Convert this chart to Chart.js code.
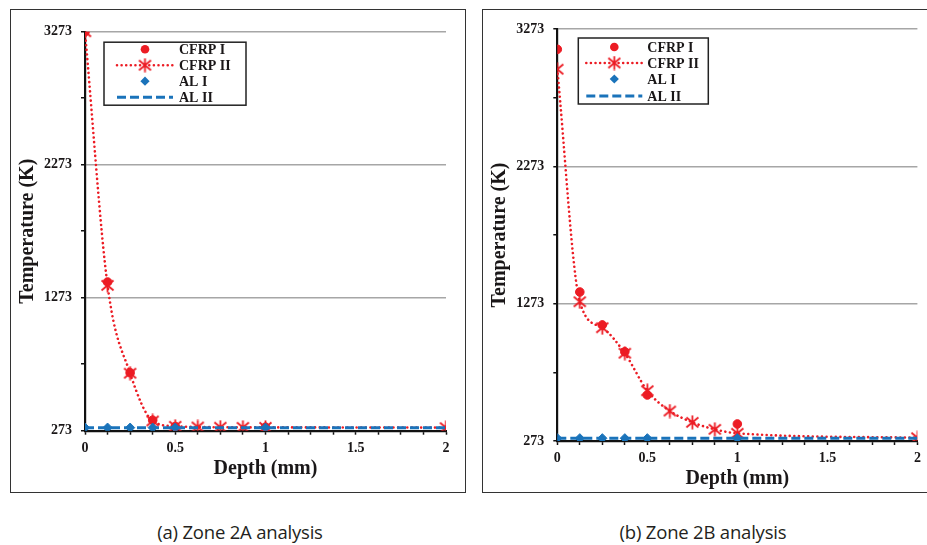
<!DOCTYPE html>
<html>
<head>
<meta charset="utf-8">
<script src="https://cdn.jsdelivr.net/npm/chart.js@4/dist/chart.umd.min.js"></script>
<style>
  html, body { margin: 0; padding: 0; background: #fff; }
  #page { position: relative; width: 927px; height: 545px; overflow: hidden; background: #fff; }
  .frame { position: absolute; top: 9px; height: 482px; border: 1.5px solid #333; box-sizing: content-box; }
  #frameA { left: 10px; width: 454px; }
  #frameB { left: 482px; width: 460px; }
  .frame canvas { position: absolute; left: 0; top: 0; }
  .caption { position: absolute; top: 519px; width: 300px; text-align: center;
             font-family: "Open Sans", "Noto Sans", sans-serif; font-size: 18.5px; line-height: 26px;
             letter-spacing: -0.2px; color: #231f20; }
  #capA { left: 90px; }
  #capB { left: 553px; }
</style>
</head>
<body>
<div id="page">
  <div class="frame" id="frameA"><canvas id="chartA" width="454" height="482"></canvas></div>
  <div class="frame" id="frameB"><canvas id="chartB" width="444" height="482"></canvas></div>
  <div class="caption" id="capA">(a) Zone 2A analysis</div>
  <div class="caption" id="capB">(b) Zone 2B analysis</div>
</div>
<script>
// ---- data -------------------------------------------------------------
// depths (mm) at which each solution is sampled
const depthI  = [0, 0.125, 0.25, 0.375, 0.5, 1];
const depthII = [0, 0.125, 0.25, 0.375, 0.5, 0.625, 0.75, 0.875, 1, 2];

// Zone 2A temperatures (K)
const cfrpI_A  = [3273, 1391, 709, 352, 305, 300];
const cfrpII_A = [3273, 1366, 705, 346, 306, 301, 299, 298, 298, 296];
const alI_A    = [296, 296, 296, 296, 296, 296];
const alII_A   = [296, 296, 296, 296, 296, 296, 296, 296, 296, 296];

// Zone 2B temperatures (K)
const cfrpI_B  = [3125, 1358, 1118, 923, 608, 397];
const cfrpII_B = [2980, 1287, 1098, 912, 639, 491, 409, 358, 329, 297];
const alI_B    = [293, 293, 293, 293, 293, 293];
const alII_B   = [293, 293, 293, 293, 293, 293, 293, 293, 293, 293];

// axis ticks
const yLabels = [273, 1273, 2273, 3273];
const xLabels = [0, 0.5, 1, 1.5, 2];
const seriesNames = ['CFRP I', 'CFRP II', 'AL I', 'AL II'];

// ---- styling ----------------------------------------------------------
const RED = '#ec1c24';
const BLUE = '#1a73ba';
const INK = '#1a1718';
const SERIF = '"Liberation Serif", "Times New Roman", serif';

// asterisk marker: an X crossed by a vertical stroke
function makeAsterisk(color) {
  const c = document.createElement('canvas');
  c.width = 15; c.height = 15;
  const g = c.getContext('2d');
  g.strokeStyle = color; g.lineWidth = 1.8; g.lineCap = 'butt';
  g.beginPath();
  g.moveTo(1.5, 2.5); g.lineTo(13.5, 12.5);
  g.moveTo(13.5, 2.5); g.lineTo(1.5, 12.5);
  g.moveTo(7.5, 0.5); g.lineTo(7.5, 14.5);
  g.stroke();
  return c;
}
const asterisk = makeAsterisk(RED);

const pts = (xs, ys) => xs.map((x, i) => ({ x: x, y: ys[i] }));

function makeDatasets(cI, cII, aI, aII) {
  return [
    { label: seriesNames[0], data: pts(depthI, cI), showLine: false, order: 4,
      pointStyle: 'circle', pointRadius: 4.3, pointBackgroundColor: RED, pointBorderColor: RED, pointBorderWidth: 1 },
    { label: seriesNames[1], data: pts(depthII, cII), showLine: true, order: 3,
      borderColor: RED, borderWidth: 2.6, borderDash: [0.01, 4.6], borderCapStyle: 'round',
      cubicInterpolationMode: 'monotone',
      pointStyle: asterisk, pointRadius: 7 },
    { label: seriesNames[2], data: pts(depthI, aI), showLine: false, order: 2,
      pointStyle: 'rectRot', pointRadius: 4.6, pointBackgroundColor: BLUE, pointBorderColor: BLUE, pointBorderWidth: 1 },
    { label: seriesNames[3], data: pts(depthII, aII), showLine: true, order: 1,
      borderColor: BLUE, borderWidth: 3, borderDash: [9, 4], borderCapStyle: 'butt',
      pointRadius: 0 }
  ];
}

// boxed legend drawn inside the plot area
const boxLegend = {
  id: 'boxLegend',
  afterDatasetsDraw(chart, args, o) {
    const ctx = chart.ctx;
    const a = chart.chartArea;
    const L = a.left + o.dx, T = a.top + o.dy;
    ctx.save();
    ctx.fillStyle = '#fff';
    ctx.fillRect(L, T, o.w, o.h);
    ctx.strokeStyle = '#222'; ctx.lineWidth = 1.5; ctx.setLineDash([]);
    ctx.strokeRect(L, T, o.w, o.h);
    chart.data.datasets.forEach((ds, i) => {
      const y = T + o.rows[i];
      if (ds.showLine) {
        ctx.save();
        ctx.strokeStyle = ds.borderColor; ctx.lineWidth = ds.borderWidth;
        ctx.setLineDash(ds.borderDash || []); ctx.lineCap = ds.borderCapStyle || 'butt';
        ctx.beginPath(); ctx.moveTo(L + o.s0, y); ctx.lineTo(L + o.s1, y); ctx.stroke();
        ctx.restore();
      }
      if (ds.pointRadius > 0) {
        const cx = L + (o.s0 + o.s1) / 2, r = ds.pointRadius;
        ctx.save();
        ctx.fillStyle = ds.pointBackgroundColor; ctx.strokeStyle = ds.pointBorderColor;
        if (ds.pointStyle === 'circle') {
          ctx.beginPath(); ctx.arc(cx, y, r, 0, Math.PI * 2); ctx.fill();
        } else if (ds.pointStyle === 'rectRot') {
          ctx.beginPath(); ctx.moveTo(cx, y - r); ctx.lineTo(cx + r, y); ctx.lineTo(cx, y + r); ctx.lineTo(cx - r, y);
          ctx.closePath(); ctx.fill();
        } else if (ds.pointStyle instanceof HTMLCanvasElement) {
          ctx.drawImage(ds.pointStyle, cx - ds.pointStyle.width / 2, y - ds.pointStyle.height / 2);
        }
        ctx.restore();
      }
      ctx.fillStyle = INK;
      ctx.font = 'bold 14px ' + SERIF;
      ctx.textBaseline = 'middle'; ctx.textAlign = 'left';
      ctx.fillText(ds.label, L + o.tx, y + 1);
    });
    ctx.restore();
  }
};

function makeChart(id, datasets, geo) {
  return new Chart(document.getElementById(id), {
    type: 'scatter',
    data: { datasets: datasets },
    plugins: [boxLegend],
    options: {
      responsive: false,
      animation: false,
      events: [],
      layout: { padding: { left: geo.padL, right: geo.padR, top: geo.padT, bottom: 0 } },
      plugins: {
        legend: { display: false },
        tooltip: { enabled: false },
        boxLegend: geo.legend
      },
      scales: {
        x: {
          type: 'linear', min: 0, max: 2,
          afterFit: s => { s.height = geo.xH; },
          border: { display: true, color: '#111', width: 2.2 },
          grid: { drawOnChartArea: false, drawTicks: true, tickLength: 4, tickColor: '#111', tickWidth: 1.5 },
          ticks: {
            stepSize: 0.125, autoSkip: false, maxRotation: 0, padding: 5, color: INK,
            font: { family: SERIF, size: 14, weight: 'bold' },
            callback: v => xLabels.some(t => Math.abs(t - v) < 1e-9) ? String(+v.toFixed(3)) : ''
          },
          title: { display: true, text: 'Depth (mm)', color: INK,
                   font: { family: SERIF, size: 20, weight: 'bold' }, padding: { top: 0, bottom: geo.xTitlePad } }
        },
        y: {
          type: 'linear', min: 273, max: 3273,
          afterFit: s => { s.width = geo.yW; },
          border: { display: true, color: '#111', width: 2.2 },
          grid: {
            color: c => (c.tick && yLabels.includes(c.tick.value) && c.tick.value !== 273) ? '#a6a6a6' : 'rgba(0,0,0,0)',
            lineWidth: 1.5,
            drawTicks: true, tickLength: 4, tickColor: '#111', tickWidth: 1.5
          },
          ticks: {
            stepSize: 500, padding: 9, color: INK,
            font: { family: SERIF, size: 14, weight: 'bold' },
            callback: v => yLabels.includes(v) ? String(v) : ''
          },
          title: { display: true, text: 'Temperature (K)', color: INK,
                   font: { family: SERIF, size: 20, weight: 'bold' }, padding: { top: 5, bottom: 0 } }
        }
      }
    }
  });
}

makeChart('chartA', makeDatasets(cfrpI_A, cfrpII_A, alI_A, alII_A), {
  padL: 0, padR: 19, padT: 21.7, yW: 74, xH: 61.3, xTitlePad: 11,
  legend: { dx: 19, dy: 10.5, w: 142, h: 63, rows: [7, 23, 39, 55], s0: 13, s1: 69, tx: 75 }
});
makeChart('chartB', makeDatasets(cfrpI_B, cfrpII_B, alI_B, alII_B), {
  padL: 0, padR: 7, padT: 19, yW: 74.3, xH: 51, xTitlePad: 1,
  legend: { dx: 21, dy: 9, w: 130, h: 66, rows: [9, 25, 41, 58], s0: 8, s1: 64, tx: 69 }
});
</script>
</body>
</html>
